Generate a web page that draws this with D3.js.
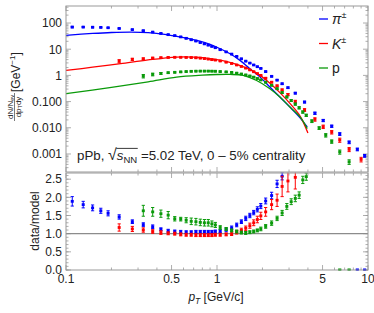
<!DOCTYPE html>
<html>
<head>
<meta charset="utf-8">
<script src="https://cdnjs.cloudflare.com/ajax/libs/d3/7.8.5/d3.min.js"></script>
<style>
	body { margin: 0; background: #fff; }
	svg { display: block; font-family: "Liberation Sans", Arial, sans-serif; }
</style>
</head>
<body>
<script>
// ---- data ----
// pions
var piPt = [0.11,0.13,0.15,0.17,0.19,0.225,0.275,0.325,0.375,0.425,0.475,0.525,0.575,0.625,0.675,0.725,0.775,0.825,0.875,0.925,0.975,
	1.05,1.15,1.25,1.35,1.45,1.55,1.65,1.75,1.85,1.95,2.1,2.3,2.5,2.7,2.95,3.3,3.8,4.45,5.05,5.75,6.5,7.5,8.5,9.5];
var piY = [70,70,69,68,66,62,56,51,45,40,36,33,29.5,26,23,20.5,18,16,14.3,12.8,11.4,
	9.6,7.9,6.5,5.3,4.3,3.5,2.95,2.5,2.15,1.85,1.4,0.92,0.66,0.48,0.34,0.21,0.096,0.036,0.019,0.0115,0.0058,0.0028,0.0015,0.00085];
var piErr = [0.06,0.05,0.05,0.04,0.04,0.04,0.04,0.04,0.04,0.04,0.04,0.04,0.04,0.04,0.04,0.04,0.04,0.04,0.04,0.04,0.04,
	0.04,0.04,0.04,0.04,0.04,0.04,0.04,0.04,0.04,0.04,0.05,0.05,0.05,0.06,0.06,0.07,0.08,0.1,0.1,0.1,0.12,0.12,0.12,0.12];
var piRatio = [1.89,1.80,1.71,1.63,1.56,1.46,1.33,1.25,1.19,1.12,1.08,1.06,1.05,1.04,1.04,1.05,1.05,1.05,1.05,1.05,1.06,
	1.07,1.10,1.16,1.24,1.33,1.42,1.50,1.58,1.67,1.76,1.90,2.05,2.37,2.58,null,null,null,null,null,null,null,null,0,0];
var piRatioErr = [0.13,0.09,0.08,0.07,0.07,0.06,0.05,0.05,0.05,0.04,0.04,0.04,0.04,0.04,0.04,0.04,0.04,0.04,0.04,0.04,0.04,
	0.04,0.05,0.05,0.05,0.05,0.06,0.06,0.06,0.07,0.07,0.08,0.09,0.1,0.1,0,0,0,0,0,0,0,0,0.02,0.02];
var piModelPt = [0.1,0.15,0.2,0.27,0.35,0.45,0.57,0.66,0.77,0.9,1.05,1.22,1.42,1.65,1.93,2.24,2.61,3.04,3.55,3.96];
var piModel = [34,40,43.5,45,43,37,29,25,20.4,15.2,10.4,6.7,3.74,1.8,0.86,0.36,0.149,0.062,0.024,0.0107];

// kaons
var kPt = [0.225,0.275,0.325,0.375,0.425,0.475,0.525,0.575,0.625,0.675,0.725,0.775,0.825,0.875,0.925,0.975,
	1.05,1.15,1.25,1.35,1.45,1.55,1.65,1.75,1.85,1.95,2.1,2.3,2.5,2.7,2.95,3.3,3.8,4.45,5.05,5.75,6.5,7.5,9.0];
var kY = [3.5,4.1,4.3,4.6,4.75,4.85,4.9,4.9,4.85,4.8,4.7,4.55,4.4,4.2,4.0,3.85,
	3.55,3.2,2.85,2.5,2.2,1.9,1.62,1.38,1.17,1.0,0.78,0.55,0.4,0.28,0.185,0.1,0.048,0.021,0.011,0.0068,0.0034,0.0015,0.00062];
var kErr = [0.14,0.1,0.08,0.06,0.05,0.05,0.04,0.04,0.04,0.04,0.04,0.04,0.04,0.04,0.04,0.04,
	0.04,0.04,0.04,0.04,0.04,0.04,0.04,0.04,0.04,0.04,0.06,0.06,0.07,0.08,0.1,0.12,0.12,0.15,0.15,0.15,0.18,0.18,0.2];
var kRatio = [1.17,1.13,1.10,1.06,1.03,1.01,1.00,0.98,0.97,0.97,0.96,0.96,0.96,0.96,0.96,0.97,
	0.97,0.98,1.00,1.04,1.09,1.15,1.22,1.30,1.39,1.49,1.60,1.80,1.92,2.30,2.45,2.55,null,null,null,null,null,null,null];
var kRatioErr = [0.1,0.07,0.06,0.05,0.05,0.04,0.04,0.04,0.04,0.04,0.04,0.04,0.04,0.04,0.04,0.04,
	0.04,0.04,0.05,0.05,0.06,0.06,0.07,0.08,0.09,0.1,0.12,0.14,0.17,0.28,0.3,0.32,0,0,0,0,0,0,0];
var kModelPt = [0.1,0.15,0.23,0.35,0.54,0.7,0.85,1.05,1.28,1.58,1.93,2.24,2.61,3.04,3.55,4.0];
var kModel = [1.55,2.05,2.8,3.9,5.0,5.0,4.6,3.8,2.9,1.9,1.0,0.5,0.22,0.085,0.028,0.0063];

// protons
var pPt = [0.325,0.375,0.425,0.475,0.525,0.575,0.625,0.675,0.725,0.775,0.825,0.875,0.925,0.975,
	1.05,1.15,1.25,1.35,1.45,1.55,1.65,1.75,1.85,1.95,2.1,2.3,2.5,2.7,2.9,3.1,3.3,3.5,3.7,3.9,4.25,4.75,5.25,5.75,6.5,7.5];
var pY = [0.94,1.09,1.19,1.27,1.31,1.36,1.40,1.43,1.45,1.46,1.46,1.46,1.45,1.44,
	1.40,1.36,1.30,1.22,1.13,1.04,0.95,0.86,0.76,0.67,0.55,0.42,0.31,0.22,0.15,0.11,0.08,0.058,0.04,0.03,0.018,0.0098,0.0052,0.003,0.0012,0.0005];
var pErr = [0.15,0.12,0.08,0.06,0.05,0.05,0.05,0.05,0.05,0.05,0.05,0.05,0.05,0.05,
	0.05,0.05,0.05,0.05,0.05,0.05,0.05,0.05,0.05,0.05,0.06,0.06,0.07,0.07,0.08,0.08,0.09,0.1,0.1,0.1,0.12,0.12,0.15,0.15,0.18,0.2];
var pRatio = [1.63,1.60,1.55,1.51,1.41,1.40,1.37,1.34,1.33,1.31,1.30,1.30,1.27,1.24,
	1.17,1.13,1.09,1.06,1.03,1.02,1.04,1.06,1.09,1.13,1.20,1.29,1.42,1.57,1.75,1.88,1.97,2.06,2.48,2.57,null,null,null,null,0,0];
var pRatioErr = [0.15,0.12,0.1,0.1,0.06,0.05,0.07,0.09,0.09,0.09,0.09,0.09,0.08,0.07,
	0.05,0.04,0.04,0.04,0.04,0.04,0.04,0.04,0.04,0.05,0.05,0.06,0.06,0.07,0.08,0.08,0.09,0.09,0.1,0.1,0,0,0,0,0.02,0.02];
var pModelPt = [0.1,0.2,0.35,0.54,0.8,1.0,1.22,1.49,1.83,2.24,2.61,3.04,3.55,3.96];
var pModel = [0.2,0.35,0.57,0.86,1.02,1.08,1.09,1.0,0.64,0.31,0.15,0.062,0.026,0.0093];

// ticks and labels
var xMajor = [0.1, 0.5, 1, 5, 10];
var xLabels = ["0.1", "0.5", "1", "5", "10"];
var yTopMajor = [0.001, 0.01, 0.1, 1, 10, 100];
var yTopLabels = ["0.001", "0.010", "0.100", "1", "10", "100"];
var yBotMajor = [0, 0.5, 1, 1.5, 2, 2.5];
var yBotLabels = ["0.0", "0.5", "1.0", "1.5", "2.0", "2.5"];

var legendNames = ["π", "K", "p"];
var colors = ["#0000ff", "#ff0000", "#0a9a0a"];

// ---- layout ----
var w = 374, h = 313;
var L = 66, R = 368, T1 = 6, B1 = 172, T2 = 173, B2 = 270;
var frameCol = "#999999";

var svg = d3.select("body").append("svg")
	.attr("width", w)
	.attr("height", h);

var x = d3.scaleLog().domain([0.1, 10]).range([L, R]);
var yTop = d3.scaleLog().domain([2.05e-4, 446]).range([B1, T1]);
var yBot = d3.scaleLinear().domain([0, 2.67]).range([B2, T2]);

var defs = svg.append("defs");
defs.append("clipPath").attr("id", "clipTop").append("rect")
	.attr("x", L).attr("y", T1).attr("width", R - L).attr("height", B1 - T1);
defs.append("clipPath").attr("id", "clipBot").append("rect")
	.attr("x", L).attr("y", T2 - 0.5).attr("width", R - L).attr("height", B2 - T2 + 1);

function zip(pt, v, e) {
	var out = [];
	for (var i = 0; i < pt.length; i++) {
		if (v[i] === null) continue;
		out.push({ x: pt[i], y: v[i], e: e[i] });
	}
	return out;
}

// ---- ticks ----
function xTicks(yEdge, dir) {
	var minors = x.ticks().filter(function(t) {
		return xMajor.indexOf(+t.toPrecision(3)) < 0;
	});
	svg.selectAll(null).data(minors).enter().append("line")
		.attr("x1", function(d) { return x(d); })
		.attr("x2", function(d) { return x(d); })
		.attr("y1", yEdge).attr("y2", yEdge + dir * 2.5)
		.attr("stroke", frameCol).attr("stroke-width", 0.8);
	svg.selectAll(null).data(xMajor).enter().append("line")
		.attr("x1", function(d) { return x(d); })
		.attr("x2", function(d) { return x(d); })
		.attr("y1", yEdge).attr("y2", yEdge + dir * 5)
		.attr("stroke", frameCol).attr("stroke-width", 0.8);
}
function yTicks(scale, majors, minors) {
	[L, R].forEach(function(xe) {
		var dir = xe === L ? 1 : -1;
		svg.selectAll(null).data(minors).enter().append("line")
			.attr("x1", xe).attr("x2", xe + dir * 2.5)
			.attr("y1", function(d) { return scale(d); })
			.attr("y2", function(d) { return scale(d); })
			.attr("stroke", frameCol).attr("stroke-width", 0.8);
		svg.selectAll(null).data(majors).enter().append("line")
			.attr("x1", xe).attr("x2", xe + dir * 5)
			.attr("y1", function(d) { return scale(d); })
			.attr("y2", function(d) { return scale(d); })
			.attr("stroke", frameCol).attr("stroke-width", 0.8);
	});
}

xTicks(T1, 1);
xTicks(B1, -1);
xTicks(T2, 1);
xTicks(B2, -1);

var topMinors = yTop.ticks().filter(function(t) {
	var m = t / Math.pow(10, Math.floor(Math.log10(t) + 1e-9));
	return Math.abs(m - 1) > 1e-6;
});
yTicks(yTop, yTopMajor, topMinors);
var botMinors = d3.range(0, 27).map(function(i) { return i / 10; });
yTicks(yBot, yBotMajor, botMinors);

// ratio = 1 line
svg.append("line")
	.attr("x1", L).attr("x2", R)
	.attr("y1", yBot(1)).attr("y2", yBot(1))
	.attr("stroke", "#8c8c8c").attr("stroke-width", 1.2);

// ---- marks ----
var gTop = svg.append("g").attr("clip-path", "url(#clipTop)");
var gBot = svg.append("g").attr("clip-path", "url(#clipBot)");

function drawPoints(g, pts, col, yScale, relative) {
	var lo = function(d) { return relative ? d.y * (1 - d.e) : d.y - d.e; };
	var hi = function(d) { return relative ? d.y * (1 + d.e) : d.y + d.e; };
	var s = g.append("g").attr("stroke", col).attr("fill", col);
	s.selectAll(null).data(pts).enter().append("line")
		.attr("x1", function(d) { return x(d.x); })
		.attr("x2", function(d) { return x(d.x); })
		.attr("y1", function(d) { return yScale(lo(d)); })
		.attr("y2", function(d) { return yScale(hi(d)); })
		.attr("stroke-width", 1);
	[lo, hi].forEach(function(f) {
		s.selectAll(null).data(pts).enter().append("line")
			.attr("x1", function(d) { return x(d.x) - 1.6; })
			.attr("x2", function(d) { return x(d.x) + 1.6; })
			.attr("y1", function(d) { return yScale(f(d)); })
			.attr("y2", function(d) { return yScale(f(d)); })
			.attr("stroke-width", 1);
	});
	s.selectAll(null).data(pts).enter().append("rect")
		.attr("x", function(d) { return x(d.x) - 1.5; })
		.attr("y", function(d) { return yScale(d.y) - 1.4; })
		.attr("width", 3).attr("height", 2.8)
		.attr("stroke", "none");
}

var line = d3.line()
	.x(function(d) { return x(d[0]); })
	.y(function(d) { return yTop(d[1]); })
	.curve(d3.curveCatmullRom.alpha(0.5));

var models = [[piModelPt, piModel], [kModelPt, kModel], [pModelPt, pModel]];
models.forEach(function(m, i) {
	gTop.append("path")
		.datum(d3.zip(m[0], m[1]))
		.attr("d", line)
		.attr("fill", "none")
		.attr("stroke", colors[i])
		.attr("stroke-width", 1.3);
});

drawPoints(gTop, zip(piPt, piY, piErr), colors[0], yTop, true);
drawPoints(gTop, zip(kPt, kY, kErr), colors[1], yTop, true);
drawPoints(gTop, zip(pPt, pY, pErr), colors[2], yTop, true);

drawPoints(gBot, zip(piPt, piRatio, piRatioErr), colors[0], yBot, false);
drawPoints(gBot, zip(kPt, kRatio, kRatioErr), colors[1], yBot, false);
drawPoints(gBot, zip(pPt, pRatio, pRatioErr), colors[2], yBot, false);

// ---- frames ----
svg.append("rect").attr("x", L).attr("y", T1).attr("width", R - L).attr("height", B1 - T1)
	.attr("fill", "none").attr("stroke", frameCol).attr("stroke-width", 1);
svg.append("rect").attr("x", L).attr("y", T2).attr("width", R - L).attr("height", B2 - T2)
	.attr("fill", "none").attr("stroke", frameCol).attr("stroke-width", 1);

// ---- tick labels ----
svg.selectAll(null).data(yTopMajor).enter().append("text")
	.attr("x", L - 4)
	.attr("y", function(d) { return yTop(d) + 4.3; })
	.attr("text-anchor", "end")
	.attr("font-size", "12px")
	.attr("fill", "#222")
	.text(function(d, i) { return yTopLabels[i]; });

svg.selectAll(null).data(yBotMajor).enter().append("text")
	.attr("x", L - 4)
	.attr("y", function(d) { return yBot(d) + 4.3; })
	.attr("text-anchor", "end")
	.attr("font-size", "12px")
	.attr("fill", "#222")
	.text(function(d, i) { return yBotLabels[i]; });

svg.selectAll(null).data(xMajor).enter().append("text")
	.attr("x", function(d) { return x(d); })
	.attr("y", B2 + 13)
	.attr("text-anchor", "middle")
	.attr("font-size", "12px")
	.attr("fill", "#222")
	.text(function(d, i) { return xLabels[i]; });

// ---- axis titles ----
var xt = svg.append("text")
	.attr("x", 216).attr("y", 301)
	.attr("text-anchor", "middle")
	.attr("font-size", "12px")
	.attr("fill", "#222");
xt.append("tspan").attr("font-style", "italic").text("p");
xt.append("tspan").attr("font-style", "italic").attr("font-size", "8.5px").attr("dy", 3).text("T");
xt.append("tspan").attr("dy", -3).text(" [GeV/c]");

svg.append("text")
	.attr("transform", "translate(39,221) rotate(-90)")
	.attr("text-anchor", "middle")
	.attr("font-size", "12px")
	.attr("fill", "#222")
	.text("data/model");

var yl = svg.append("g").attr("transform", "translate(0,0) rotate(-90)");
var num = yl.append("text").attr("x", -107).attr("y", 12.5)
	.attr("text-anchor", "middle").attr("font-size", "8px").attr("fill", "#222");
num.append("tspan").text("dN/N");
num.append("tspan").attr("font-size", "5.5px").attr("dy", 1.5).text("ev");
var den = yl.append("text").attr("x", -107).attr("y", 20.5)
	.attr("text-anchor", "middle").attr("font-size", "8px").attr("fill", "#222");
den.append("tspan").text("dp");
den.append("tspan").attr("font-size", "5.5px").attr("dy", 1.5).text("T");
den.append("tspan").attr("dy", -1.5).text("dy");
yl.append("line").attr("x1", -121).attr("x2", -93).attr("y1", 14.5).attr("y2", 14.5)
	.attr("stroke", "#222").attr("stroke-width", 0.6);
var gev = yl.append("text").attr("x", -92).attr("y", 19.5)
	.attr("font-size", "12px").attr("fill", "#222");
gev.append("tspan").text("[GeV");
gev.append("tspan").attr("font-size", "8px").attr("dy", -5).text("−1");
gev.append("tspan").attr("dy", 5).text("]");

// ---- annotation ----
var ann = svg.append("text")
	.attr("x", 77).attr("y", 160)
	.attr("font-size", "13.3px")
	.attr("fill", "#222");
ann.append("tspan").text("pPb, ");
ann.append("tspan").attr("font-size", "16px").text("√");
ann.append("tspan").attr("font-style", "italic").text("s");
ann.append("tspan").attr("font-size", "9.5px").attr("dy", 3).text("NN");
ann.append("tspan").attr("dy", -3).text(" =5.02 TeV, 0 – 5% centrality");
// overline of the square root over s_NN
var annNode = ann.node();
var s1 = annNode.getEndPositionOfChar(8);
var r0 = annNode.getExtentOfChar(5);
svg.append("line")
	.attr("x1", r0.x + r0.width - 0.5).attr("x2", s1.x + 0.5)
	.attr("y1", r0.y + 2.4).attr("y2", r0.y + 2.4)
	.attr("stroke", "#222").attr("stroke-width", 0.9);

// ---- legend ----
var leg = svg.selectAll(null).data(legendNames).enter().append("g")
	.attr("transform", function(d, i) { return "translate(319," + (19 + i * 24.5) + ")"; });
leg.append("line")
	.attr("x1", 0).attr("x2", 9)
	.attr("stroke", function(d, i) { return colors[i]; })
	.attr("stroke-width", 1.3);
leg.each(function(d, i) {
	var t = d3.select(this).append("text")
		.attr("x", 13).attr("y", 5)
		.attr("font-size", "14px")
		.attr("fill", "#222");
	t.append("tspan").attr("font-style", i < 2 ? "italic" : "normal").text(d);
	if (i < 2) {
		t.append("tspan").attr("font-size", "9px").attr("dy", -6).text("±");
	}
});
</script>
</body>
</html>
